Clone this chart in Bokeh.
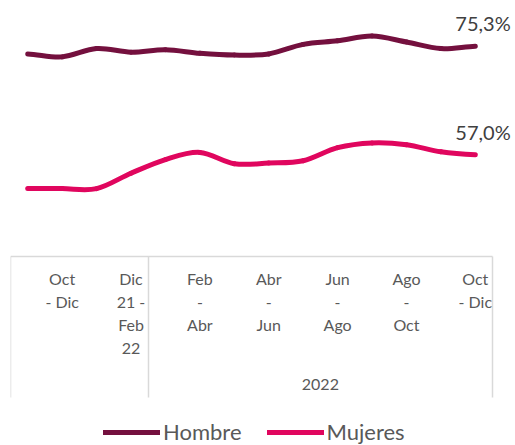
from bokeh.plotting import figure
from bokeh.models import Range1d, FixedTicker, LinearAxis, Legend, LegendItem, Label, ColumnDataSource
from bokeh.embed import file_html
from bokeh.resources import INLINE

# ---- data ----
periods = ["Sep - Nov 21", "Oct - Dic 21", "Nov 21 - Ene 22", "Dic 21 - Feb 22",
           "Ene - Mar", "Feb - Abr", "Mar - May", "Abr - Jun", "May - Jul",
           "Jun - Ago", "Jul - Sep", "Ago - Oct", "Sep - Nov", "Oct - Dic"]
hombre = [74.0, 73.5, 74.9, 74.3, 74.7, 74.1, 73.8, 74.0, 75.6, 76.2, 77.0, 76.0, 74.9, 75.3]
mujeres = [51.3, 51.3, 51.3, 53.9, 56.2, 57.4, 55.5, 55.6, 56.0, 58.2, 59.0, 58.7, 57.5, 57.0]
tick_index = [1, 3, 5, 7, 9, 11, 13]
tick_text = ["Oct\n- Dic", "Dic\n21 -\nFeb\n22", "Feb\n-\nAbr", "Abr\n-\nJun",
             "Jun\n-\nAgo", "Ago\n-\nOct", "Oct\n- Dic"]
group_bounds = [-0.5, 3.5, 13.5]
year_label = "2022"
year_first, year_last = 4, 13
series_names = ["Hombre", "Mujeres"]
colors = ["#74103E", "#E0065E"]

FONT = "Lato"
GRAY = "#595959"
BOX = "#D9D9D9"
AXIS_Y = 39.86

p = figure(width=515, height=445, output_backend="svg", toolbar_location=None,
           x_range=Range1d(-0.5, 14.167), y_range=Range1d(8.01, 83.0),
           y_axis_location=None, min_border_left=10, min_border_right=0,
           min_border_top=0, min_border_bottom=0)
p.xgrid.visible = False
p.ygrid.visible = False
p.outline_line_color = None
p.background_fill_color = "white"
p.border_fill_color = "white"


def bezier_source(ys):
    n = len(ys)
    xs = list(range(n))
    d = dict(x0=[], y0=[], x1=[], y1=[], cx0=[], cy0=[], cx1=[], cy1=[])
    for i in range(n - 1):
        ym = ys[i - 1] if i > 0 else ys[i]
        yp = ys[i + 2] if i + 2 < n else ys[i + 1]
        d["x0"].append(xs[i]); d["y0"].append(ys[i])
        d["x1"].append(xs[i + 1]); d["y1"].append(ys[i + 1])
        d["cx0"].append(xs[i] + 1 / 3); d["cy0"].append(ys[i] + (ys[i + 1] - ym) / 6)
        d["cx1"].append(xs[i + 1] - 1 / 3); d["cy1"].append(ys[i + 1] - (yp - ys[i]) / 6)
    return ColumnDataSource(d)


renderers = []
for ys, col in zip([hombre, mujeres], colors):
    r = p.bezier(x0="x0", y0="y0", x1="x1", y1="y1", cx0="cx0", cy0="cy0",
                 cx1="cx1", cy1="cy1", source=bezier_source(ys),
                 line_color=col, line_width=5, line_cap="round")
    renderers.append(r)

# end-value labels
for ys in [hombre, mujeres]:
    last = len(ys) - 1
    p.add_layout(Label(x=last, y=ys[last], text=f"{ys[last]:.1f}%".replace(".", ","),
                       x_offset=-20, y_offset=23, text_align="left", text_baseline="middle",
                       text_font=FONT, text_font_size="20px", text_color="#404040"))

# box axis: top line and group separators
bx = p.xaxis[0]
bx.fixed_location = AXIS_Y
bx.ticker = FixedTicker(ticks=group_bounds)
bx.bounds = (group_bounds[0], group_bounds[-1])
bx.axis_line_color = BOX
bx.axis_line_width = 1.5
bx.major_tick_line_color = BOX
bx.major_tick_line_width = 1.5
bx.major_tick_in = 0
bx.major_tick_out = 141
bx.minor_tick_line_color = None
bx.major_label_text_color = None
bx.major_label_text_font_size = "1px"

# category labels
lx = LinearAxis(ticker=FixedTicker(ticks=tick_index), fixed_location=AXIS_Y,
                major_label_overrides={i: t for i, t in zip(tick_index, tick_text)},
                axis_line_color=None, major_tick_line_color=None,
                major_tick_out=0, major_tick_in=0, minor_tick_line_color=None,
                major_label_standoff=13, major_label_text_font=FONT,
                major_label_text_font_size="16px", major_label_text_color=GRAY,
                major_label_text_line_height=1.2, major_label_orientation="horizontal")
p.add_layout(lx, "below")

# group (year) label
year_pos = (year_first + year_last) / 2
yx = LinearAxis(ticker=FixedTicker(ticks=[year_pos]), fixed_location=AXIS_Y,
                major_label_overrides={year_pos: year_label},
                axis_line_color=None, major_tick_line_color=None,
                major_tick_out=0, major_tick_in=0, minor_tick_line_color=None,
                major_label_standoff=123, major_label_text_font=FONT,
                major_label_text_font_size="16px", major_label_text_color=GRAY)
p.add_layout(yx, "below")

legend = Legend(items=[LegendItem(label=n, renderers=[r]) for n, r in zip(series_names, renderers)],
                orientation="horizontal", location=(93, 0), margin=0, padding=0,
                spacing=25, glyph_width=57, glyph_height=20, label_height=20,
                label_standoff=3, border_line_color=None, background_fill_alpha=0,
                label_text_font=FONT, label_text_font_size="22px", label_text_color=GRAY)
p.add_layout(legend)

open("out.html", "w").write(file_html(p, INLINE))
